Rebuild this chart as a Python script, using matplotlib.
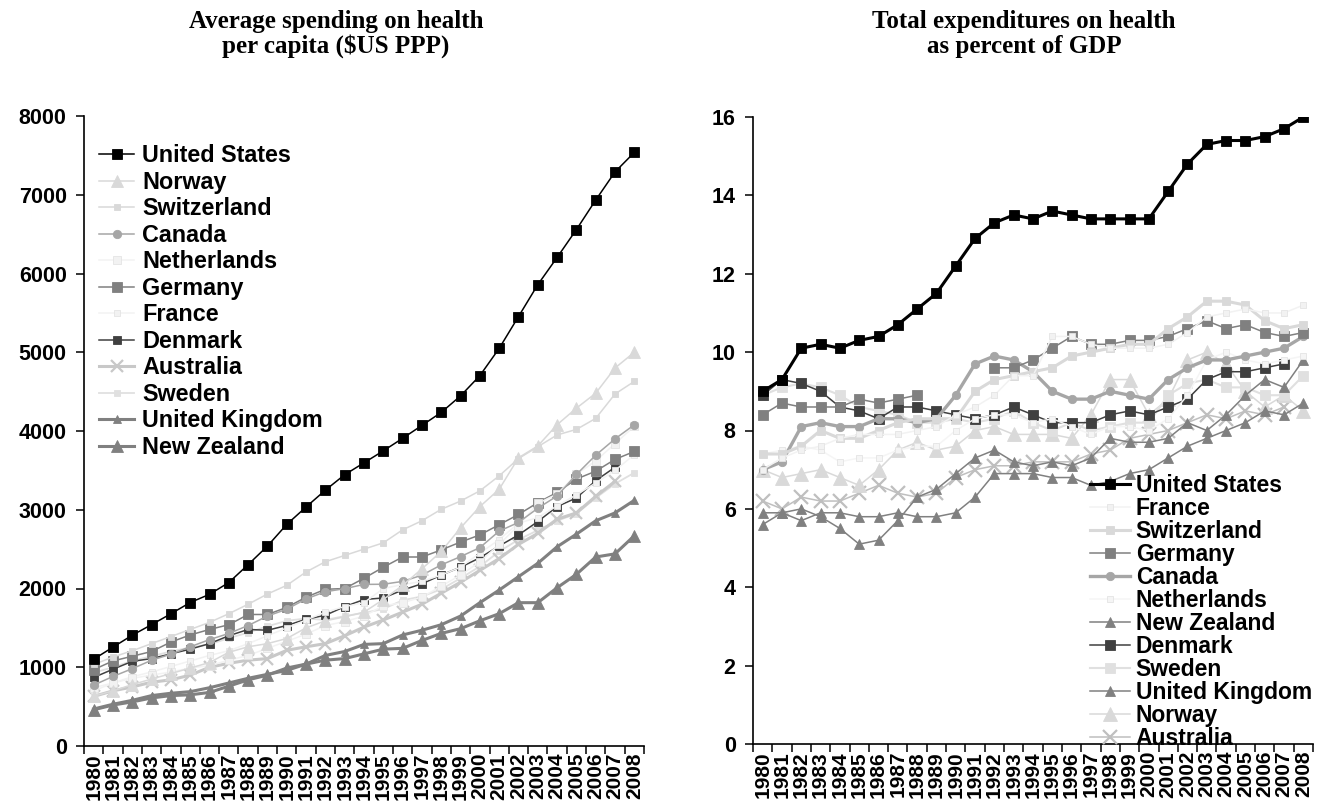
import numpy as np
import matplotlib
matplotlib.use("Agg")
import matplotlib.pyplot as plt

plt.rcParams['font.family'] = ['Liberation Sans', 'DejaVu Sans']
plt.rcParams['font.weight'] = 'bold'

years = list(range(1980, 2009))
year_labels = [str(y) for y in years]
N = None

# ---- average spending per capita ($US PPP)
spend = {
    'United States': [1102, 1255, 1407, 1541, 1679, 1822, 1926, 2076, 2303, 2539, 2814, 3035, 3249, 3445, 3596,
                      3748, 3907, 4071, 4236, 4446, 4703, 5049, 5453, 5858, 6204, 6558, 6933, 7290, 7538],
    'Norway': [632, 700, 780, 850, 920, 990, 1060, 1190, 1260, 1300, 1365, 1500, 1590, 1640, 1700,
               1860, 2040, 2250, 2470, 2770, 3040, 3260, 3660, 3810, 4080, 4290, 4480, 4800, 5000],
    'Switzerland': [1035, 1130, 1210, 1300, 1390, 1480, 1570, 1680, 1800, 1930, 2040, 2210, 2340, 2420, 2500,
                    2580, 2745, 2860, 3006, 3110, 3240, 3430, 3650, 3800, 3950, 4020, 4160, 4470, 4630],
    'Canada': [773, 883, 982, 1089, 1166, 1260, 1351, 1429, 1530, 1650, 1737, 1868, 1959, 1998, 2052,
               2054, 2090, 2169, 2300, 2405, 2519, 2729, 2839, 3019, 3175, 3448, 3693, 3900, 4079],
    'Netherlands': [740, 800, 860, 900, 940, 990, 1020, 1090, 1150, 1240, 1330, 1420, 1530, 1580, 1650,
                    1780, 1820, 1890, 2030, 2170, 2340, 2560, 2800, 3080, 3200, 3450, 3620, 3840, 4060],
    'Germany': [970, 1080, 1140, 1200, 1320, 1410, 1480, 1540, 1670, 1670, 1760, 1890, 1990, 2000, 2130,
                2270, 2400, 2400, 2490, 2590, 2680, 2810, 2940, 3090, 3220, 3390, 3490, 3640, 3740],
    'France': [700, 800, 880, 940, 1010, 1080, 1150, 1210, 1300, 1400, 1500, 1600, 1700, 1770, 1820,
               2000, 2050, 2090, 2170, 2270, 2450, 2620, 2830, 2900, 3050, 3190, 3340, 3500, 3700],
    'Denmark': [870, 975, 1075, 1110, 1170, 1230, 1300, 1400, 1480, 1470, 1530, 1610, 1660, 1770, 1860,
                1880, 1980, 2060, 2170, 2270, 2390, 2540, 2680, 2850, 3040, 3150, 3370, 3540, N],
    'Australia': [630, 700, 750, 810, 840, 900, 1000, 1050, 1090, 1110, 1215, 1260, 1300, 1400, 1510,
                  1600, 1700, 1800, 1940, 2080, 2230, 2380, 2560, 2700, 2880, 2960, 3170, 3360, N],
    'Sweden': [930, 1000, 1080, 1140, 1200, 1250, 1290, 1370, 1440, 1520, 1590, 1620, 1600, 1650, 1690,
               1740, 1850, 1900, 1990, 2130, 2280, 2470, 2620, 2740, 2860, 2950, 3150, 3330, 3470],
    'United Kingdom': [470, 530, 580, 640, 670, 690, 740, 800, 860, 910, 960, 1040, 1150, 1200, 1290,
                       1300, 1410, 1470, 1540, 1650, 1820, 1980, 2150, 2320, 2530, 2690, 2860, 2960, 3120],
    'New Zealand': [460, 520, 560, 610, 640, 650, 680, 760, 840, 900, 990, 1040, 1090, 1110, 1170,
                    1230, 1240, 1340, 1430, 1490, 1590, 1680, 1820, 1820, 2010, 2180, 2400, 2440, 2670],
}
spend_order = ['United States', 'Norway', 'Switzerland', 'Canada', 'Netherlands', 'Germany',
               'France', 'Denmark', 'Australia', 'Sweden', 'United Kingdom', 'New Zealand']

# ---- total expenditure on health, % of GDP
gdp = {
    'United States': [9.0, 9.3, 10.1, 10.2, 10.1, 10.3, 10.4, 10.7, 11.1, 11.5, 12.2, 12.9, 13.3, 13.5, 13.4,
                      13.6, 13.5, 13.4, 13.4, 13.4, 13.4, 14.1, 14.8, 15.3, 15.4, 15.4, 15.5, 15.7, 16.0],
    'France': [7.0, 7.3, 7.5, 7.6, 7.8, 7.9, 7.9, 7.9, 8.0, 8.1, 8.4, 8.6, 8.9, 9.4, 9.4,
               10.4, 10.4, 10.2, 10.1, 10.1, 10.1, 10.2, 10.5, 10.9, 11.0, 11.1, 11.0, 11.0, 11.2],
    'Switzerland': [7.4, 7.4, 7.6, 8.0, 7.8, 7.8, 8.0, 8.2, 8.3, 8.3, 8.3, 9.0, 9.3, 9.4, 9.5,
                    9.6, 9.9, 10.0, 10.1, 10.2, 10.2, 10.6, 10.9, 11.3, 11.3, 11.2, 10.8, 10.6, 10.7],
    'Germany': [8.4, 8.7, 8.6, 8.6, 8.6, 8.8, 8.7, 8.8, 8.9, N, N, N, 9.6, 9.6, 9.8,
                10.1, 10.4, 10.2, 10.2, 10.3, 10.3, 10.4, 10.6, 10.8, 10.6, 10.7, 10.5, 10.4, 10.5],
    'Canada': [7.0, 7.2, 8.1, 8.2, 8.1, 8.1, 8.3, 8.3, 8.2, 8.3, 8.9, 9.7, 9.9, 9.8, 9.5,
               9.0, 8.8, 8.8, 9.0, 8.9, 8.8, 9.3, 9.6, 9.8, 9.8, 9.9, 10.0, 10.1, 10.4],
    'Netherlands': [7.4, 7.5, 7.6, 7.5, 7.2, 7.3, 7.3, 7.5, 7.6, 7.6, 8.0, 8.3, 8.4, 8.4, 8.2,
                    8.3, 8.1, 7.9, 8.1, 8.1, 8.0, 8.3, 8.9, 9.8, 10.0, 9.8, 9.7, 9.8, 9.9],
    'New Zealand': [5.9, 5.9, 6.0, 5.8, 5.5, 5.1, 5.2, 5.7, 6.3, 6.5, 6.9, 7.3, 7.5, 7.2, 7.1,
                    7.2, 7.1, 7.3, 7.8, 7.7, 7.7, 7.8, 8.2, 8.0, 8.4, 8.9, 9.3, 9.1, 9.8],
    'Denmark': [8.9, 9.3, 9.2, 9.0, 8.6, 8.5, 8.3, 8.6, 8.6, 8.5, 8.4, 8.3, 8.4, 8.6, 8.4,
                8.2, 8.2, 8.2, 8.4, 8.5, 8.4, 8.6, 8.8, 9.3, 9.5, 9.5, 9.6, 9.7, N],
    'Sweden': [8.9, 9.1, 9.2, 9.1, 8.9, 8.6, 8.5, 8.4, 8.2, 8.2, 8.3, 8.2, 8.3, 8.5, 8.2,
               8.0, 8.2, 8.0, 8.1, 8.2, 8.2, 8.9, 9.2, 9.3, 9.1, 9.1, 8.9, 8.9, 9.4],
    'United Kingdom': [5.6, 5.9, 5.7, 5.9, 5.9, 5.8, 5.8, 5.9, 5.8, 5.8, 5.9, 6.3, 6.9, 6.9, 6.9,
                       6.8, 6.8, 6.6, 6.7, 6.9, 7.0, 7.3, 7.6, 7.8, 8.0, 8.2, 8.5, 8.4, 8.7],
    'Norway': [7.0, 6.8, 6.9, 7.0, 6.8, 6.6, 7.0, 7.5, 7.7, 7.5, 7.6, 8.0, 8.1, 7.9, 7.9,
               7.9, 7.8, 8.4, 9.3, 9.3, 8.4, 8.8, 9.8, 10.0, 9.7, 9.0, 8.6, 8.9, 8.5],
    'Australia': [6.2, 6.0, 6.3, 6.2, 6.2, 6.4, 6.6, 6.4, 6.3, 6.4, 6.8, 7.0, 7.1, 7.1, 7.2,
                  7.2, 7.2, 7.4, 7.5, 7.8, 7.9, 8.0, 8.2, 8.4, 8.3, 8.5, 8.4, 8.6, N],
}
gdp_order = ['United States', 'France', 'Switzerland', 'Germany', 'Canada', 'Netherlands',
             'New Zealand', 'Denmark', 'Sweden', 'United Kingdom', 'Norway', 'Australia']

# styles: color, marker, markersize, linewidth
style_left = {
    'United States': ('#000000', 's', 7, 1.1),
    'Norway': ('#d9d9d9', '^', 9, 1.1),
    'Switzerland': ('#d9d9d9', 's', 5, 1.1),
    'Canada': ('#a6a6a6', 'o', 6, 1.1),
    'Netherlands': ('#f2f2f2', 's', 6, 1.1),
    'Germany': ('#808080', 's', 7, 1.1),
    'France': ('#f2f2f2', 's', 5, 1.1),
    'Denmark': ('#404040', 's', 6, 1.1),
    'Australia': ('#c8c8c8', 'x', 9, 2.2),
    'Sweden': ('#e0e0e0', 's', 5, 1.3),
    'United Kingdom': ('#808080', '^', 6, 2.2),
    'New Zealand': ('#808080', '^', 8, 2.2),
}
style_right = {
    'United States': ('#000000', 's', 7.5, 2.2),
    'France': ('#f2f2f2', 's', 5, 1.1),
    'Switzerland': ('#d9d9d9', 's', 6, 2.2),
    'Germany': ('#808080', 's', 7.5, 1.1),
    'Canada': ('#a6a6a6', 'o', 6, 2.4),
    'Netherlands': ('#f5f5f5', 's', 5, 1.1),
    'New Zealand': ('#808080', '^', 7, 1.1),
    'Denmark': ('#404040', 's', 7, 1.1),
    'Sweden': ('#e0e0e0', 's', 7, 1.5),
    'United Kingdom': ('#808080', '^', 7, 1.1),
    'Norway': ('#d9d9d9', '^', 10, 1.1),
    'Australia': ('#bfbfbf', 'x', 10, 1.1),
}

fig = plt.figure(figsize=(13.17, 8.10), dpi=100)
W, H = 1317.0, 810.0
ax1 = fig.add_axes([84 / W, 64 / H, 560 / W, 630 / H])
ax2 = fig.add_axes([753 / W, 66 / H, 560 / W, 627 / H])

x = np.arange(len(years))


def draw(ax, data, order, styles):
    handles = {}
    for name in order[::-1]:
        c, m, ms, lw = styles[name]
        y = np.array([np.nan if v is None else v for v in data[name]], dtype=float)
        mec = c
        if c in ('#f2f2f2', '#f5f5f5'):
            mec = '#e4e4e4'
        h, = ax.plot(x, y, color=c, marker=m, markersize=ms, linewidth=lw,
                     markerfacecolor=c, markeredgecolor=mec,
                     markeredgewidth=1.6 if m == 'x' else 0.6, label=name)
        handles[name] = h
    return [handles[n] for n in order]


def style_axes(ax):
    ax.set_xlim(-0.5, len(years) - 0.5)
    for s in ('top', 'right'):
        ax.spines[s].set_visible(False)
    for s in ('left', 'bottom'):
        ax.spines[s].set_linewidth(1.2)
    ax.set_xticks(x)
    ax.set_xticklabels(year_labels, rotation=90, fontsize=15, fontweight='bold')
    ax.set_xticks(np.arange(-0.5, len(years), 1.0), minor=True)
    ax.tick_params(axis='x', which='major', length=0, pad=5)
    ax.tick_params(axis='x', which='minor', length=5.5, width=1.1, direction='out')
    ax.tick_params(axis='y', length=5.5, width=1.1, direction='out', labelsize=15.5, pad=7)
    for t in ax.get_yticklabels():
        t.set_fontweight('bold')


h1 = draw(ax1, spend, spend_order, style_left)
style_axes(ax1)
ax1.set_ylim(0, 8000)
ax1.set_yticks(range(0, 8001, 1000))
ax1.set_yticklabels([str(v) for v in range(0, 8001, 1000)], fontweight='bold')
ax1.legend(h1, spend_order, loc='upper left', bbox_to_anchor=(15 / 560, 0.955), frameon=False,
           prop={'family': 'Liberation Sans', 'weight': 'bold', 'size': 16.8},
           handlelength=1.5, handletextpad=0.35, labelspacing=0.15, borderpad=0, borderaxespad=0)

h2 = draw(ax2, gdp, gdp_order, style_right)
style_axes(ax2)
ax2.set_ylim(0, 16)
ax2.set_yticks(range(0, 17, 2))
ax2.set_yticklabels([str(v) for v in range(0, 17, 2)], fontweight='bold')
ax2.legend(h2, gdp_order, loc='upper left', bbox_to_anchor=(337 / 560, 0.43), frameon=False,
           prop={'family': 'Liberation Sans', 'weight': 'bold', 'size': 16.5},
           handlelength=1.75, handletextpad=0.25, labelspacing=0.0, borderpad=0, borderaxespad=0)

fig.text(336 / W, 1 - 34 / H, 'Average spending on health\nper capita ($US PPP)', ha='center', va='center',
         family=['Liberation Serif', 'DejaVu Serif'], weight='bold', fontsize=18, linespacing=1.1)
fig.text(1024 / W, 1 - 34 / H, 'Total expenditures on health\nas percent of GDP', ha='center', va='center',
         family=['Liberation Serif', 'DejaVu Serif'], weight='bold', fontsize=18, linespacing=1.1)

fig.savefig('out.png', dpi=100)
